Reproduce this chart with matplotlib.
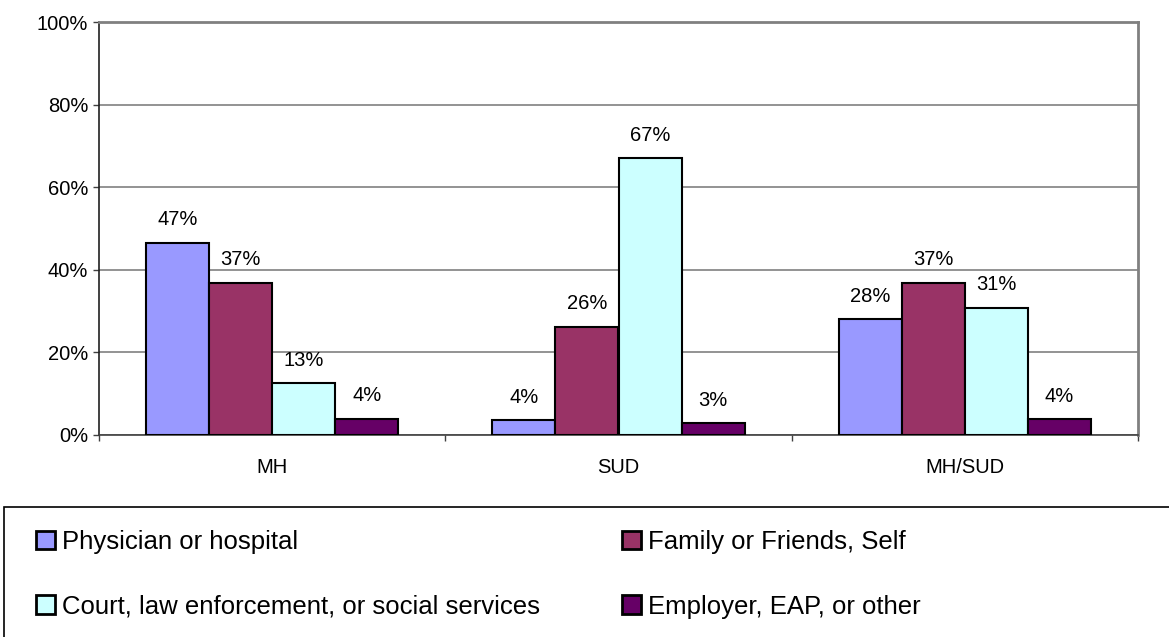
import numpy as np
import matplotlib.pyplot as plt
from matplotlib.patches import Rectangle

plt.rcParams['font.family'] = ['Liberation Sans', 'DejaVu Sans']

categories = ['MH', 'SUD', 'MH/SUD']
series_names = ['Physician or hospital', 'Family or Friends, Self',
                'Court, law enforcement, or social services', 'Employer, EAP, or other']
physician = [46.6, 3.6, 28.0]
family = [36.9, 26.2, 36.9]
court = [12.6, 67.0, 30.8]
employer = [3.9, 2.8, 3.8]
colors = ['#9999FF', '#993366', '#CCFFFF', '#660066']

W, H = 1169, 637
fig = plt.figure(figsize=(W / 100, H / 100), dpi=100)
ax = fig.add_axes([99 / W, (H - 435) / H, (1138 - 99) / W, (435 - 22) / H])

x = np.arange(len(categories))
bw = 0.182
bars = []
for i, (vals, c) in enumerate(zip([physician, family, court, employer], colors)):
    b = ax.bar(x + (i - 1.5) * bw, vals, bw, color=c, edgecolor='black',
               linewidth=1.5, zorder=3, label=series_names[i])
    bars.append(b)
    for xi, v in zip(x + (i - 1.5) * bw, vals):
        ax.annotate(f'{v:.0f}%', (xi, v), xytext=(0, 16.5), textcoords='offset points',
                    ha='center', va='center', fontsize=14.5)

ax.set_xlim(-0.5, 2.5)
ax.set_ylim(0, 100)
ax.set_yticks(np.arange(0, 101, 20))
ax.set_yticklabels([f'{t}%' for t in range(0, 101, 20)], fontsize=14.5)
ax.yaxis.grid(True, color='#808080', linewidth=1.2, zorder=0)
ax.tick_params(axis='y', length=4.3, width=1, pad=3.6, color='#404040')

ax.set_xticks(x)
ax.set_xticklabels(categories, fontsize=14.5)
ax.tick_params(axis='x', which='major', length=0, pad=16.5)
ax.set_xticks(np.arange(-0.5, 2.6, 1), minor=True)
ax.tick_params(axis='x', which='minor', length=4.3, width=1, color='#404040')

for side in ['top', 'right']:
    ax.spines[side].set_color('#808080')
    ax.spines[side].set_linewidth(2)
ax.spines['left'].set_color('#202020')
ax.spines['bottom'].set_color('#404040')
ax.spines['left'].set_linewidth(1.2)
ax.spines['bottom'].set_linewidth(1.2)

# legend frame runs off the bottom-right of the canvas
fig.patches.append(Rectangle((4 / W, -0.1), 1.2, (H - 507) / H + 0.1,
                             transform=fig.transFigure, fill=False,
                             edgecolor='black', linewidth=1.2))

handles = [bars[0], bars[2], bars[1], bars[3]]
labels = [series_names[0], series_names[2], series_names[1], series_names[3]]
leg = fig.legend(handles, labels, ncol=2, frameon=False, fontsize=18.5,
                 loc='upper left', bbox_to_anchor=(36 / W, (H - 530) / H),
                 handlelength=0.75, handleheight=0.75, handletextpad=0.25,
                 labelspacing=1.58, columnspacing=3.2, borderaxespad=0, borderpad=0)
for p in leg.get_patches():
    p.set_linewidth(2)

fig.savefig('out.png', dpi=100)
